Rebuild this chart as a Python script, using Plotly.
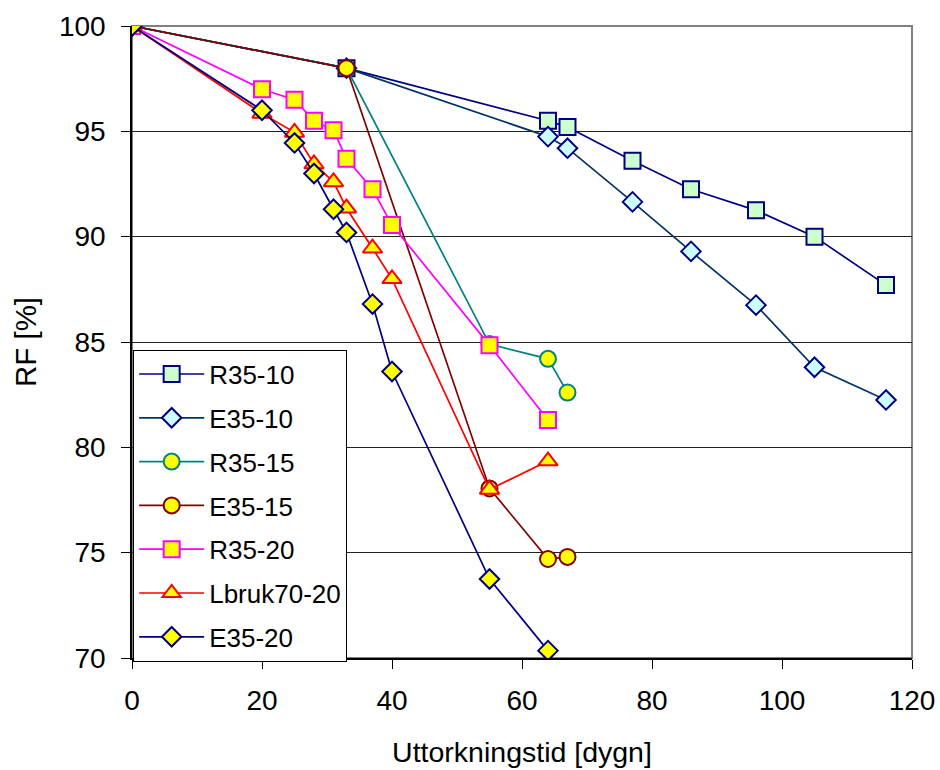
import plotly.graph_objects as go

# ---- data ----
names = ["R35-10", "E35-10", "R35-15", "E35-15", "R35-20", "Lbruk70-20", "E35-20"]

x_r35_10 = [0, 33, 64, 67, 77, 86, 96, 105, 116]
y_r35_10 = [100, 98, 95.5, 95.2, 93.6, 92.25, 91.25, 90.0, 87.7]

x_e35_10 = [0, 33, 64, 67, 77, 86, 96, 105, 116]
y_e35_10 = [100, 98, 94.75, 94.2, 91.65, 89.3, 86.75, 83.8, 82.25]

x_r35_15 = [0, 33, 55, 64, 67]
y_r35_15 = [100, 98, 84.9, 84.2, 82.6]

x_e35_15 = [0, 33, 55, 64, 67]
y_e35_15 = [100, 98, 78.05, 74.7, 74.8]

x_r35_20 = [0, 20, 25, 28, 31, 33, 37, 40, 55, 64]
y_r35_20 = [100, 97.0, 96.5, 95.5, 95.05, 93.7, 92.25, 90.55, 84.85, 81.3]

x_lbruk = [0, 20, 25, 28, 31, 33, 37, 40, 55, 64]
y_lbruk = [100, 95.85, 94.95, 93.45, 92.6, 91.35, 89.45, 88.0, 78.0, 79.35]

x_e35_20 = [0, 20, 25, 28, 31, 33, 37, 40, 55, 64]
y_e35_20 = [100, 96.0, 94.45, 93.0, 91.3, 90.2, 86.8, 83.6, 73.75, 70.35]

xs = [x_r35_10, x_e35_10, x_r35_15, x_e35_15, x_r35_20, x_lbruk, x_e35_20]
ys = [y_r35_10, y_e35_10, y_r35_15, y_e35_15, y_r35_20, y_lbruk, y_e35_20]

x_ticks = [0, 20, 40, 60, 80, 100, 120]
y_ticks = [70, 75, 80, 85, 90, 95, 100]

# ---- styles ----
line_colors = ["#000080", "#003366", "#008080", "#800000", "#FF00FF", "#FF0000", "#000080"]
edge_colors = ["#000080", "#000080", "#008080", "#800000", "#FF00FF", "#FF0000", "#000080"]
fill_colors = ["#CCFFCC", "#CCFFFF", "#FFFF00", "#FFFF00", "#FFFF00", "#FFFF00", "#FFFF00"]
symbols = ["square", "diamond", "circle", "circle", "square", "triangle-up", "diamond"]
sizes = [16, 15, 16, 16, 16, 17, 15]

FONT = "Liberation Sans, Arial, sans-serif"

fig = go.Figure()
for i, n in enumerate(names):
    fig.add_trace(go.Scatter(
        x=xs[i], y=ys[i], name=n, mode="lines+markers",
        legendgroup=n,
        line=dict(color=line_colors[i], width=1.7),
        marker=dict(symbol=symbols[i], size=sizes[i], color=fill_colors[i],
                    line=dict(color=edge_colors[i], width=2)),
    ))

fig.update_layout(
    width=940, height=770,
    margin=dict(l=132, r=28, t=26, b=112, autoexpand=False),
    paper_bgcolor="white", plot_bgcolor="white",
    font=dict(family=FONT, size=27, color="black"),
    showlegend=True,
    legend=dict(
        x=0.0015, y=0.488, xanchor="left", yanchor="top",
        bgcolor="white", bordercolor="black", borderwidth=1,
        font=dict(family=FONT, size=26, color="black"),
        tracegroupgap=7, itemwidth=65,
    ),
    shapes=[dict(type="rect", xref="paper", yref="paper", x0=0, y0=0, x1=1, y1=1,
                 line=dict(color="#808080", width=2), layer="below")],
)
fig.update_xaxes(
    range=[0, 120], tickvals=x_ticks, ticktext=[str(v) for v in x_ticks],
    automargin=False,
    showgrid=False, zeroline=False,
    showline=True, linecolor="black", linewidth=1.5,
    ticks="outside", ticklen=9, tickcolor="black", tickwidth=1,
    ticklabelstandoff=8,
    tickfont=dict(size=28),
    title=dict(text="Uttorkningstid [dygn]", font=dict(size=28.5), standoff=27),
)
fig.update_yaxes(
    range=[70, 100], tickvals=y_ticks, ticktext=[str(v) for v in y_ticks],
    automargin=False,
    showgrid=True, gridcolor="#222222", gridwidth=1, zeroline=False,
    showline=True, linecolor="black", linewidth=1.5,
    ticks="outside", ticklen=9, tickcolor="black", tickwidth=1,
    ticklabelstandoff=10,
    tickfont=dict(size=28),
    title=dict(text="RF [%]", font=dict(size=29.5), standoff=14),
)

fig.write_html("out.html")
